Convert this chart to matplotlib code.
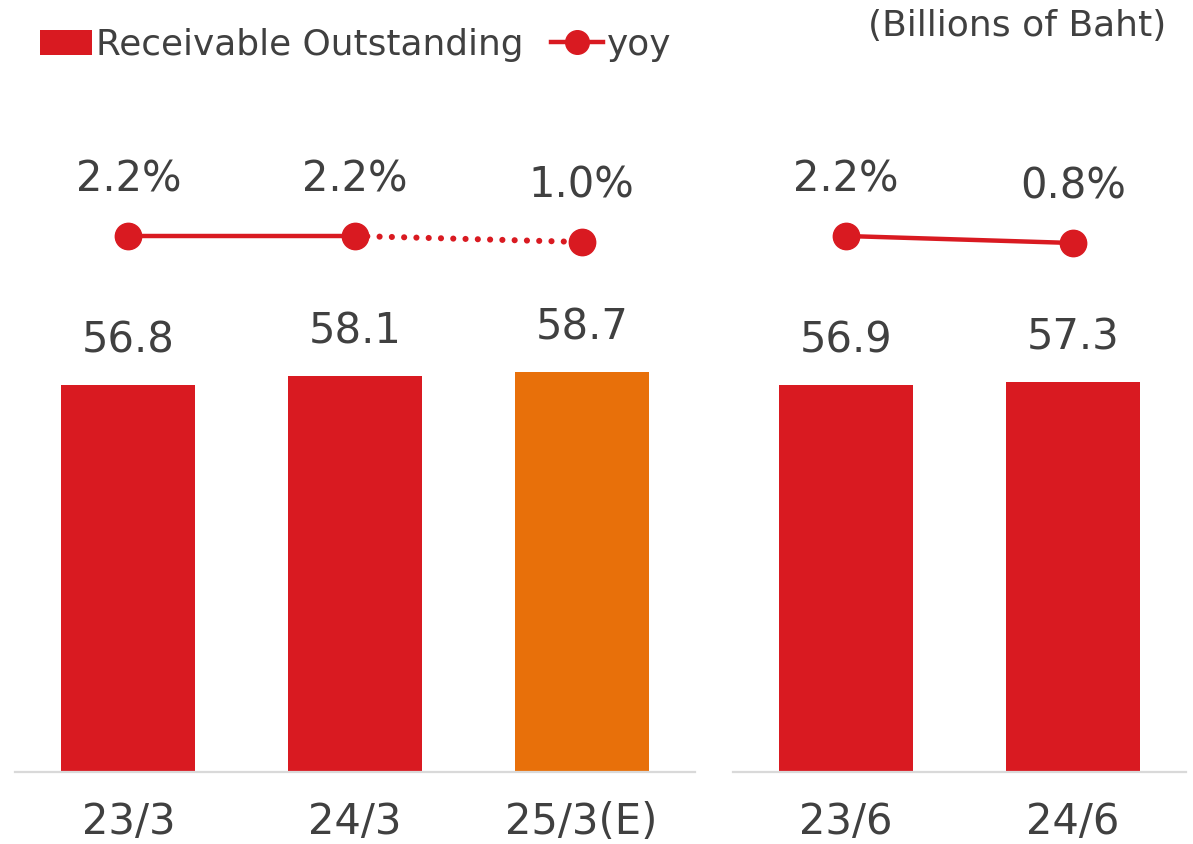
import matplotlib
matplotlib.use("Agg")
import matplotlib.pyplot as plt
from matplotlib.patches import Patch
from matplotlib.lines import Line2D

# fiscal year-end (March) and quarter (June) figures
periods_fy = ["23/3", "24/3", "25/3(E)"]
recv_fy = [56.8, 58.1, 58.7]
yoy_fy = [2.2, 2.2, 1.0]

periods_q = ["23/6", "24/6"]
recv_q = [56.9, 57.3]
yoy_q = [2.2, 0.8]

RED = "#D91A21"
ORANGE = "#E8700A"
GREY = "#404040"
BASE = "#D9D9D9"

plt.rcParams["font.family"] = ["DejaVu Sans"]

W, H = 1193, 844
fig = plt.figure(figsize=(W / 100, H / 100), dpi=100)

base_y = 772
ax_h = 681


def make_axes(x0, x1):
    ax = fig.add_axes([x0 / W, (H - base_y) / H, (x1 - x0) / W, ax_h / H])
    ax.set_ylim(0, 100)
    for s in ["top", "left", "right"]:
        ax.spines[s].set_visible(False)
    ax.spines["bottom"].set_color(BASE)
    ax.spines["bottom"].set_linewidth(1.6)
    ax.set_yticks([])
    ax.tick_params(axis="x", length=0, pad=21, labelsize=30, labelcolor=GREY)
    tw = ax.twinx()
    tw.set_ylim(-105, 31.2)
    tw.set_axis_off()
    return ax, tw


def draw_bars(ax, labels, vals, colors):
    xs = list(range(len(labels)))
    ax.bar(xs, vals, width=0.59, color=colors, zorder=2)
    ax.set_xticks(xs)
    ax.set_xticklabels(labels)
    ax.set_xlim(-0.5, len(labels) - 0.5)
    for x, v in zip(xs, vals):
        ax.annotate(f"{v:.1f}", (x, v), xytext=(0, 32), textcoords="offset points",
                    ha="center", va="center", fontsize=30, color=GREY)


def label_yoy(tw, vals):
    for x, v in enumerate(vals):
        tw.plot([x], [v], "o", color=RED, markersize=19, zorder=4)
        tw.annotate(f"{v:.1f}%", (x, v), xytext=(0, 41), textcoords="offset points",
                    ha="center", va="center", fontsize=30, color=GREY)


# left group: fiscal years
ax1, tw1 = make_axes(15, 695)
draw_bars(ax1, periods_fy, recv_fy, [RED, RED, ORANGE])
tw1.plot([0, 1], yoy_fy[:2], color=RED, lw=3.2, solid_capstyle="butt")
# estimate -> dotted
tw1.plot([1, 2], yoy_fy[1:], color=RED, lw=4.4, linestyle=(0, (0.01, 2.0)),
         dash_capstyle="round")
label_yoy(tw1, yoy_fy)
tw1.set_xlim(ax1.get_xlim())

# right group: quarters
ax2, tw2 = make_axes(733, 1186)
draw_bars(ax2, periods_q, recv_q, [RED, RED])
tw2.plot([0, 1], yoy_q, color=RED, lw=3.2)
label_yoy(tw2, yoy_q)
tw2.set_xlim(ax2.get_xlim())

handles = [Patch(facecolor=RED, edgecolor="none"),
           Line2D([], [], color=RED, lw=3.2, marker="o", markersize=17)]
fig.legend(handles, ["Receivable Outstanding", "yoy"], loc="center left",
           bbox_to_anchor=(40 / W, (H - 45) / H), ncol=2, frameon=False,
           fontsize=25.8, labelcolor=GREY, handlelength=1.45, handletextpad=0.12,
           columnspacing=0.75, borderpad=0, borderaxespad=0)

fig.text(1166 / W, (H - 26) / H, "(Billions of Baht)", ha="right", va="center",
         fontsize=26, color=GREY)

fig.savefig("out.png", dpi=100)
